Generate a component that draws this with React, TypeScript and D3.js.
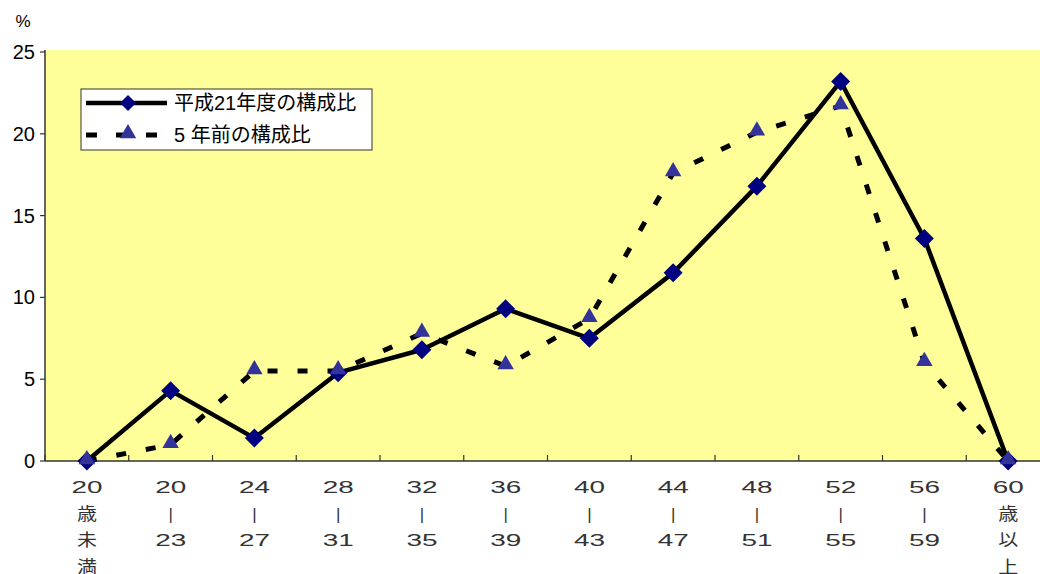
import React from "react";
import * as d3 from "d3";

const categories: string[][] = [
  ["20", "歳", "未", "満"],
  ["20", "|", "23"],
  ["24", "|", "27"],
  ["28", "|", "31"],
  ["32", "|", "35"],
  ["36", "|", "39"],
  ["40", "|", "43"],
  ["44", "|", "47"],
  ["48", "|", "51"],
  ["52", "|", "55"],
  ["56", "|", "59"],
  ["60", "歳", "以", "上"],
];
const currentValues = [0, 4.3, 1.4, 5.4, 6.8, 9.3, 7.5, 11.5, 16.8, 23.2, 13.6, 0];
const prevValues = [0, 1.0, 5.5, 5.5, 7.8, 5.8, 8.7, 17.6, 20.1, 21.7, 6.0, 0];
const yTicks = [0, 5, 10, 15, 20, 25];
const seriesNames = ["平成21年度の構成比", "5 年前の構成比"];

const W = 1040;
const H = 574;
const left = 45;
const right = 1050;
const top = 52;
const bottom = 461;

export default function App() {
  const idx = categories.map((_, i) => i);
  const x = d3.scaleBand<number>().domain(idx).range([left, right]).padding(0);
  const cx = (i: number) => (x(i) as number) + x.bandwidth() / 2;
  const y = d3.scaleLinear().domain([0, 25]).range([bottom, top]);
  const line = d3
    .line<number>()
    .x((_, i) => cx(i))
    .y((d) => y(d));
  const font = "Arial, 'Liberation Sans', 'Noto Sans CJK JP', sans-serif";
  const diamond = (px: number, py: number, r: number) =>
    `M${px},${py - r}L${px + r},${py}L${px},${py + r}L${px - r},${py}Z`;
  const tri = (px: number, py: number, s: number) =>
    `M${px},${py - s * 0.6}L${px + s * 0.55},${py + s * 0.35}L${px - s * 0.55},${py + s * 0.35}Z`;
  const xTickPos = d3.range(0, categories.length + 1).map((i) => left + i * x.bandwidth());

  return (
    <svg width={W} height={H} style={{ position: "absolute", left: 0, top: 0, display: "block" }}>
      <rect x={0} y={0} width={W} height={H} fill="#ffffff" />
      <rect x={left} y={top - 2} width={right - left} height={bottom - top + 2} fill="#FFFF99" />
      {/* axes */}
      <line x1={left} y1={top - 2} x2={left} y2={bottom} stroke="#333" strokeWidth={1.5} />
      <line x1={left} y1={bottom} x2={right} y2={bottom} stroke="#333" strokeWidth={1.5} />
      {yTicks.map((t) => (
        <g key={t}>
          <line x1={left - 5} x2={left} y1={y(t)} y2={y(t)} stroke="#333" strokeWidth={1.2} />
          <text x={35} y={y(t)} dy="0.35em" textAnchor="end" fontSize={20} fontFamily={font} fill="#000">
            {t}
          </text>
        </g>
      ))}
      <text x={23} y={27} textAnchor="middle" fontSize={17} fontFamily={font} fill="#000">
        %
      </text>
      {xTickPos.map((p, i) => (
        <line key={i} x1={p} x2={p} y1={bottom} y2={bottom - 6} stroke="#333" strokeWidth={1.2} />
      ))}
      {categories.map((lines, i) => (
        <g key={i}>
          {lines.map((s, j) => {
            const isNum = /^\d+$/.test(s);
            const isBar = s === "|";
            const yy = 493 + j * 26.7;
            if (isNum) {
              return (
                <text
                  key={j}
                  x={cx(i) - 15.5}
                  y={yy}
                  fontSize={16}
                  fontFamily={font}
                  fill="#333"
                  textLength={31}
                  lengthAdjust="spacingAndGlyphs"
                >
                  {s}
                </text>
              );
            }
            if (isBar) {
              return (
                <text key={j} x={cx(i)} y={yy} textAnchor="middle" fontSize={17} fontFamily={font} fill="#333">
                  {s}
                </text>
              );
            }
            return (
              <text
                key={j}
                x={cx(i) - 10}
                y={yy}
                fontSize={17}
                fontFamily={font}
                fill="#333"
                textLength={20}
                lengthAdjust="spacingAndGlyphs"
              >
                {s}
              </text>
            );
          })}
        </g>
      ))}
      {/* lines */}
      <path d={line(prevValues) || ""} fill="none" stroke="#000" strokeWidth={5} strokeDasharray="10,20" />
      <path d={line(currentValues) || ""} fill="none" stroke="#000" strokeWidth={4.5} strokeLinejoin="round" />
      {currentValues.map((v, i) => (
        <path key={"d" + i} d={diamond(cx(i), y(v), 9.5)} fill="#000080" />
      ))}
      {prevValues.map((v, i) => (
        <path key={"t" + i} d={tri(cx(i), y(v) - 2, 15)} fill="#333399" />
      ))}
      {/* legend */}
      <rect x={81} y={89} width={291} height={61} fill="#fff" stroke="#333" strokeWidth={1} />
      <line x1={86} x2={167} y1={103} y2={103} stroke="#000" strokeWidth={4.5} />
      <path d={diamond(128, 103, 8)} fill="#000080" />
      <text x={174} y={103} dy="0.35em" fontSize={20} fontFamily={font} fill="#000">
        {seriesNames[0]}
      </text>
      <line x1={86} x2={167} y1={135} y2={135} stroke="#000" strokeWidth={5} strokeDasharray="11,19" />
      <path d={tri(128, 133, 15)} fill="#333399" />
      <text x={174} y={135} dy="0.35em" fontSize={20} fontFamily={font} fill="#000">
        {seriesNames[1]}
      </text>
    </svg>
  );
}
